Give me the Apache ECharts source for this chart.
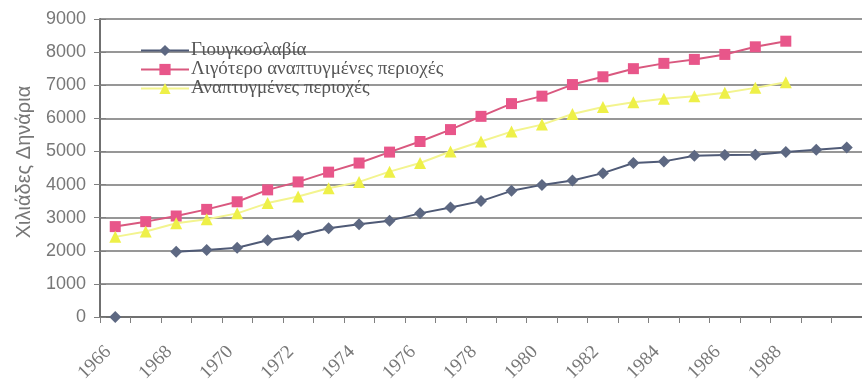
<!DOCTYPE html>
<html><head><meta charset="utf-8">
<script src="https://cdn.jsdelivr.net/npm/echarts@6/dist/echarts.min.js"></script>
<style>html,body{margin:0;padding:0;background:#fff}#c{width:862px;height:385px}</style>
</head><body><div id="c"></div>
<script>
var years = ['1966','1967','1968','1969','1970','1971','1972','1973','1974','1975','1976','1977','1978','1979','1980','1981','1982','1983','1984','1985','1986','1987','1988','1989','1990'];
var yugoslavia = [0,null,1970,2020,2090,2320,2460,2680,2800,2910,3130,3310,3500,3810,3990,4120,4345,4650,4700,4870,4890,4900,4980,5050,5120];
var lessDeveloped = [2730,2880,3050,3250,3480,3840,4080,4375,4650,4980,5300,5660,6060,6445,6670,7020,7255,7500,7660,7780,7930,8160,8330,null,null];
var developed = [2420,2580,2830,2950,3130,3440,3640,3890,4080,4390,4650,5000,5300,5600,5810,6130,6345,6485,6590,6670,6770,6920,7090,null,null];
var seriesNames = ['Γιουγκοσλαβία','Λιγότερο αναπτυγμένες περιοχές','Αναπτυγμένες περιοχές'];
var yTitle = 'Χιλιάδες Δηνάρια';

var chart = echarts.init(document.getElementById('c'), null, {renderer:'canvas'});
var serif = '"Liberation Serif","DejaVu Serif",serif';
var sans = '"Liberation Sans",Arial,sans-serif';
chart.setOption({
  animation:false,
  backgroundColor:'#fff',
  grid:{left:100, top:19, right:-7, bottom:68, containLabel:false},
  legend:{
    orient:'vertical', left:135, top:36, itemWidth:48, itemHeight:14, itemGap:0,
    textStyle:{fontFamily:serif, fontSize:19, color:'#555', padding:[0,0,0,-3]},
    data: seriesNames
  },
  xAxis:{
    type:'category', data:years, boundaryGap:true,
    axisLine:{lineStyle:{color:'#707070', width:2}},
    axisTick:{show:true, interval:0, length:6, lineStyle:{color:'#808080', width:1}},
    axisLabel:{rotate:45, margin:25, fontFamily:serif, fontSize:19, color:'#777',
      padding:[0,10,0,0],
      interval:function(i){return i%2===0 && i<24;}}
  },
  yAxis:[{
    type:'value', min:0, max:9000, interval:1000,
    name:yTitle, nameLocation:'middle', nameGap:66, nameRotate:90,
    nameTextStyle:{fontFamily:sans, fontSize:20, color:'#777', padding:[0,0,0,12]},
    axisLine:{show:true, lineStyle:{color:'#707070', width:2}},
    axisTick:{show:true, length:6, lineStyle:{color:'#808080'}},
    axisLabel:{fontFamily:sans, fontSize:18, color:'#777', margin:14,
      formatter:function(v){return String(v);}},
    splitLine:{lineStyle:{color:'#757575', width:1.6}}
  },{
    type:'value', min:0, max:9000, interval:1000, position:'left',
    axisLine:{show:false}, axisLabel:{show:false}, splitLine:{show:false},
    axisTick:{show:true, inside:true, length:6, lineStyle:{color:'#808080'}}
  }],
  series:[
    {name:seriesNames[0], type:'line', data:yugoslavia, connectNulls:false,
     symbol:'diamond', symbolSize:12, itemStyle:{color:'#5d6882'},
     lineStyle:{color:'#4f5a76', width:2}},
    {name:seriesNames[1], type:'line', data:lessDeveloped,
     symbol:'rect', symbolSize:11, itemStyle:{color:'#e8568a'},
     lineStyle:{color:'#d9587f', width:2}},
    {name:seriesNames[2], type:'line', data:developed,
     symbol:'triangle', symbolSize:12, itemStyle:{color:'#eef048'},
     lineStyle:{color:'#f3f48f', width:2}}
  ]
});
</script></body></html>
